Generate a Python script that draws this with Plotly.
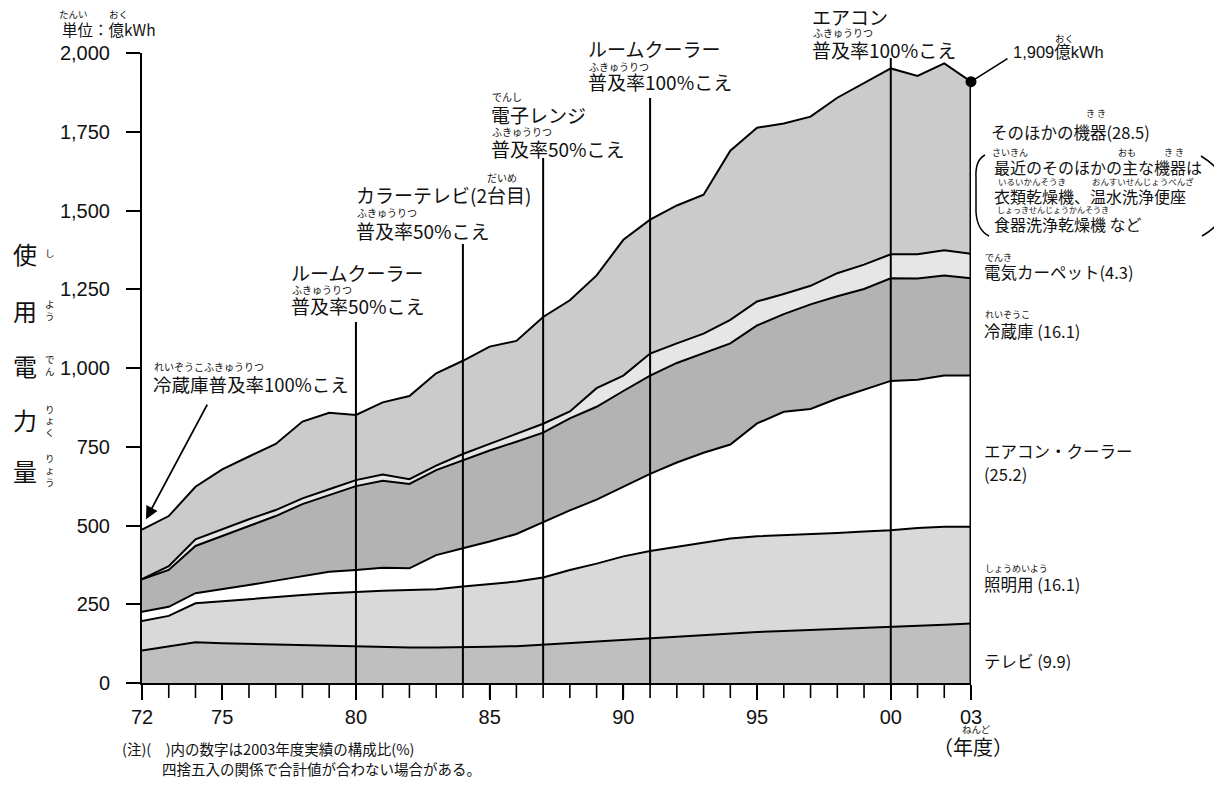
import plotly.graph_objects as go

# ---------------- data (億kWh) ----------------
years = list(range(1972, 2004))
tv       = [103,115,129,126,124,122,120,118,117,115,113,113,113,115,117,122,128,133,138,143,148,152,157,162,165,168,171,174,177,181,185,189]
lighting = [94,98,124,134,143,152,159,167,173,178,182,185,193,199,205,213,231,246,264,276,284,294,302,304,304,304,305,307,308,311,311,307]
aircon   = [29,29,32,37,44,51,61,68,69,73,69,108,122,135,151,175,189,203,220,245,268,285,298,358,392,398,427,449,474,471,480,480]
fridge   = [103,117,150,170,187,205,228,244,266,276,268,270,280,289,293,285,292,295,305,312,316,315,321,311,310,332,325,321,326,321,318,309]
carpet   = [1,12,21,21,22,19,18,18,19,20,15,14,19,21,24,28,22,59,49,70,62,63,75,76,64,59,73,77,76,77,80,78]
other    = [157,159,167,190,199,210,244,243,207,229,264,293,296,309,296,339,353,358,431,425,438,441,537,552,541,537,557,577,590,566,593,546]

series_names  = ["テレビ", "照明用", "エアコン・クーラー", "冷蔵庫", "電気カーペット", "そのほかの機器"]
series_values = [tv, lighting, aircon, fridge, carpet, other]
series_colors = ["#bfbfbf", "#d9d9d9", "#ffffff", "#b3b3b3", "#e6e6e6", "#cbcbcb"]

x_label_years = [1972, 1975, 1980, 1985, 1990, 1995, 2000, 2003]
x_label_texts = ["72", "75", "80", "85", "90", "95", "00", "03"]
y_ticks = [0, 250, 500, 750, 1000, 1250, 1500, 1750, 2000]
y_tick_texts = ["0", "250", "500", "750", "1,000", "1,250", "1,500", "1,750", "2,000"]

# event marker lines: (year, top of line in 億kWh)
event_years = [1980, 1984, 1987, 1991, 2000]
event_tops = [1146, 1394, 1667, 1857, 1984]
total_2003 = 1909

# ---------------- layout geometry (reference pixel frame) ----------------
VW, VH = 1222, 788          # browser window
OFF = 8                     # default body margin of the page
L, T = 142, 53              # plot area top-left in window pixels
PW, PH = 829, 630
BOT = T + PH
FW, FH = VW - 2 * OFF, VH - 2 * OFF
XTICK = 15

JP = "Noto Sans CJK JP"
NUM = "Liberation Sans, Noto Sans CJK JP"
INK = "#111111"

fig = go.Figure()
for name, vals, col in zip(series_names, series_values, series_colors):
    fig.add_trace(go.Scatter(
        x=years, y=vals, name=name, mode="lines", stackgroup="one",
        line=dict(color="black", width=2), fillcolor=col,
        hoverinfo="x+y+name",
    ))

fig.add_trace(go.Scatter(x=[years[-1]], y=[total_2003], mode="markers",
                         marker=dict(color="black", size=11), hoverinfo="skip",
                         cliponaxis=False))

shapes = []
for yr, top in zip(event_years, event_tops):
    shapes.append(dict(type="line", xref="x", yref="y", x0=yr, x1=yr, y0=0, y1=top,
                       line=dict(color="black", width=2), layer="above"))
shapes.append(dict(type="line", xref="x", yref="y", x0=years[-1], x1=years[-1], y0=0,
                   y1=total_2003, line=dict(color="black", width=3), layer="above"))
# yearly tick marks below the x axis
for yr in years:
    shapes.append(dict(type="line", xref="x", yref="paper", x0=yr, x1=yr, y0=0,
                       y1=-XTICK / PH, line=dict(color="black", width=1.6), layer="above"))


def px(xp):
    return (xp - L) / PW


def py(yp):
    return (BOT - yp) / PH


def pt(a, b):
    return f"{px(a):.5f},{py(b):.5f}"


shapes.append(dict(type="path", xref="paper", yref="paper",
                   path=f"M {pt(985,155)} Q {pt(975,160)} {pt(976,178)} L {pt(976,212)} Q {pt(977,230)} {pt(989,236)}",
                   line=dict(color="black", width=1.5)))
shapes.append(dict(type="path", xref="paper", yref="paper",
                   path=f"M {pt(1201,156)} Q {pt(1227,172)} {pt(1229,196)} Q {pt(1227,222)} {pt(1202,236)}",
                   line=dict(color="black", width=1.5)))

ann = []


def txt(s, xp, yp, size, anchor="left", family=JP):
    ann.append(dict(text=s, x=px(xp), y=py(yp), xref="paper", yref="paper",
                    xanchor=anchor, yanchor="middle", showarrow=False,
                    font=dict(size=size, family=family, color=INK)))


# unit
txt("たんい", 73, 14, 9.5, "center")
txt("おく", 118, 14, 9.5, "center")
txt("単位：億kWh", 60, 29, 15.5)

# vertical y-axis title with furigana (one small kana per step)
for ch, yc, fu in [("使", 253, "し"), ("用", 310, "よう"), ("電", 365, "でん"),
                   ("力", 420, "りょく"), ("量", 470, "りょう")]:
    txt(ch, 25, yc, 24, "center")
    n = len(fu)
    for i, k in enumerate(fu):
        txt(k, 50, yc + (i - (n - 1) / 2) * 11.5, 9.5, "center")

# event annotations
txt("れいぞうこふきゅうりつ", 152, 366, 10)
txt("冷蔵庫普及率100%こえ", 151, 384, 18.5)

txt("ルームクーラー", 289, 272, 19)
txt("ふきゅうりつ", 290, 289, 10)
txt("普及率50%こえ", 289, 305, 19)

txt("カラーテレビ(2台目)", 354, 194, 19)
txt("だいめ", 502, 177, 10, "center")
txt("ふきゅうりつ", 355, 212, 10)
txt("普及率50%こえ", 354, 230, 19)

txt("でんし", 507, 97, 10, "center")
txt("電子レンジ", 489, 114, 19)
txt("ふきゅうりつ", 490, 131, 10)
txt("普及率50%こえ", 489, 148, 19)

txt("ルームクーラー", 586, 48, 19)
txt("ふきゅうりつ", 587, 66, 10)
txt("普及率100%こえ", 586, 82, 19)

txt("エアコン", 810, 17, 19)
txt("ふきゅうりつ", 811, 33, 10)
txt("普及率100%こえ", 810, 49, 19)

ann.append(dict(x=years[-1], y=total_2003, xref="x", yref="y", ax=38, ay=-24, text="",
                showarrow=True, arrowhead=0, arrowwidth=1.6, arrowcolor="black", standoff=0))
txt("おく", 1064, 38, 9.5, "center")
txt("1,909億kWh", 1011, 52, 16.5, family=NUM)

ann.append(dict(x=1972.15, y=520, xref="x", yref="y", ax=62, ay=-116, text="",
                showarrow=True, arrowhead=2, arrowsize=1.4, arrowwidth=1.8,
                arrowcolor="black", standoff=0))

# right side labels
txt("き き", 1096, 113, 9, "center")
txt("そのほかの機器(28.5)", 989, 132, 16.5)
txt("さいきん", 1010, 152, 9, "center")
txt("おも", 1127, 152, 9, "center")
txt("き き", 1174, 152, 9, "center")
txt("最近のそのほかの主な機器は", 992, 167, 16)
txt("いるいかんそうき", 996, 181, 8.5)
txt("おんすいせんじょうべんざ", 1090, 181, 8.5)
txt("衣類乾燥機、温水洗浄便座", 992, 196, 16)
txt("しょっきせんじょうかんそうき", 995, 209, 8)
txt("食器洗浄乾燥機 など", 992, 224, 16)
txt("でんき", 983, 258, 9)
txt("電気カーペット(4.3)", 982, 272, 16.5)
txt("れいぞうこ", 983, 314, 9)
txt("冷蔵庫 (16.1)", 982, 331, 16.5)
txt("エアコン・クーラー", 982, 451, 16.5)
txt("(25.2)", 982, 474, 16.5)
txt("しょうめいよう", 983, 568, 9)
txt("照明用 (16.1)", 982, 584, 16.5)
txt("テレビ (9.9)", 982, 661, 16.5)

# x-axis unit and notes
txt("ねんど", 976, 729, 9.5, "center")
txt("（年度）", 973, 746, 20, "center")
txt("(注)(　)内の数字は2003年度実績の構成比(%)", 120, 748, 14.5)
txt("四捨五入の関係で合計値が合わない場合がある。", 160, 768, 14.5)

fig.update_layout(
    width=FW, height=FH,
    margin=dict(l=L - OFF, r=FW - (L - OFF) - PW, t=T - OFF, b=FH - (T - OFF) - PH, pad=0),
    paper_bgcolor="white", plot_bgcolor="white",
    showlegend=False,
    shapes=shapes, annotations=ann,
    xaxis=dict(range=[years[0], years[-1]], tickmode="array", tickvals=x_label_years,
               ticktext=x_label_texts,
               ticks="outside", ticklen=XTICK, tickwidth=1.5, tickcolor="black",
               showline=True, linecolor="black", linewidth=2, showgrid=False, zeroline=False,
               tickfont=dict(size=20, family="Liberation Sans", color=INK)),
    yaxis=dict(range=[0, 2000], tickmode="array", tickvals=y_ticks, ticktext=y_tick_texts,
               ticks="outside", ticklen=14, tickwidth=1.5, tickcolor="black",
               showline=True, linecolor="black", linewidth=2, showgrid=False, zeroline=False,
               tickfont=dict(size=20, family="Liberation Sans", color=INK), ticklabelstandoff=12),
)

fig.write_html("out.html")
